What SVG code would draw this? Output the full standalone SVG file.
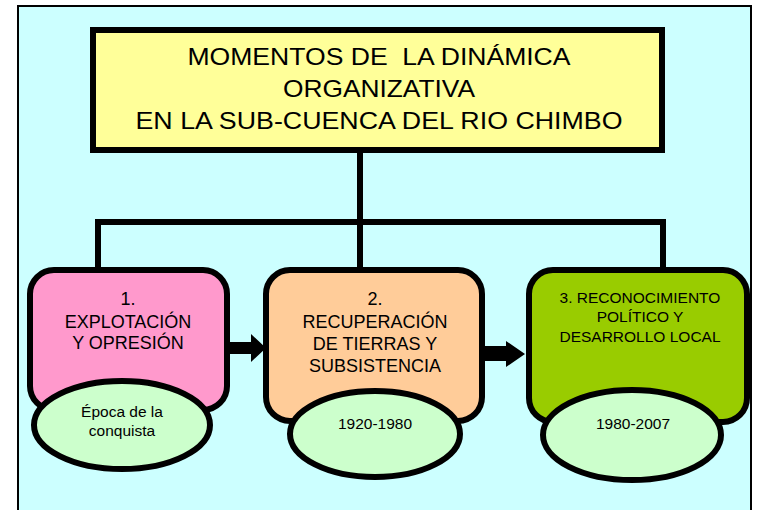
<svg xmlns="http://www.w3.org/2000/svg" width="757" height="510" viewBox="0 0 757 510">
<style>
text{font-family:"Liberation Sans",Arial,sans-serif;fill:#000;text-anchor:middle}
.box{stroke:#000;stroke-width:6}
.ell{fill:#CCFFCC;stroke:#000;stroke-width:6}
.line{stroke:#000;stroke-width:6;fill:none}
.t18{font-size:18px}
.t15{font-size:15.5px}
.t14{font-size:15.5px}
.title{font-size:24px;white-space:pre}
</style>
<rect x="0" y="0" width="757" height="510" fill="#FFFFFF"/>
<rect x="18" y="6" width="733" height="520" fill="#CCFFFF" stroke="#000" stroke-width="2"/>
<g id="connectors">
<path class="line" d="M360 150V270M98 222H663M98 219V270M663 219V270"/>
</g>
<g id="title">
<rect class="box" x="93" y="30" width="569" height="120" fill="#FFFF99"/>
<text class="title" x="379" y="65" textLength="383" lengthAdjust="spacingAndGlyphs">MOMENTOS DE  LA DINÁMICA</text>
<text class="title" x="379" y="97" textLength="192" lengthAdjust="spacingAndGlyphs">ORGANIZATIVA</text>
<text class="title" x="379" y="129" textLength="487" lengthAdjust="spacingAndGlyphs">EN LA SUB-CUENCA DEL RIO CHIMBO</text>
</g>
<g id="node1">
<rect class="box" x="30" y="270" width="197" height="140" rx="24" fill="#FF99CC"/>
<text class="t18" x="128" y="305">1.</text>
<text class="t18" x="128" y="328">EXPLOTACIÓN</text>
<text class="t18" x="128" y="349">Y OPRESIÓN</text>
<ellipse class="ell" cx="122" cy="425" rx="88" ry="44"/>
<text class="t14" x="122" y="417">Época de la</text>
<text class="t14" x="122" y="436">conquista</text>
</g>
<g id="node2">
<rect class="box" x="266" y="270" width="216" height="151" rx="24" fill="#FFCC99"/>
<text class="t18" x="375" y="305">2.</text>
<text class="t18" x="375" y="328">RECUPERACIÓN</text>
<text class="t18" x="375" y="350">DE TIERRAS Y</text>
<text class="t18" x="375" y="372">SUBSISTENCIA</text>
<ellipse class="ell" cx="375" cy="434" rx="85" ry="43"/>
<text class="t14" x="375" y="429">1920-1980</text>
</g>
<g id="node3">
<rect class="box" x="529" y="270" width="218" height="152" rx="24" fill="#99CC00"/>
<text class="t15" x="640" y="303">3. RECONOCIMIENTO</text>
<text class="t15" x="640" y="322">POLÍTICO Y</text>
<text class="t15" x="640" y="342">DESARROLLO LOCAL</text>
<ellipse class="ell" cx="632" cy="435" rx="89" ry="45"/>
<text class="t14" x="633" y="429">1980-2007</text>
</g>
<g id="arrows" fill="#000">
<polygon points="230,342 251,342 251,334 266,348 251,362 251,354 230,354"/>
<polygon points="485,346 506,346 506,341 525,354 506,367 506,361 485,361"/>
</g>
</svg>
